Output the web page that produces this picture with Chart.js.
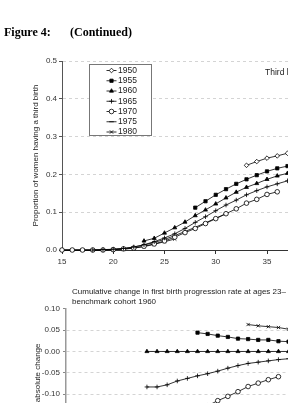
<!DOCTYPE html>
<html>
<head>
<meta charset="utf-8">
<script src="https://cdn.jsdelivr.net/npm/chart.js@4/dist/chart.umd.min.js"></script>
<style>
html, body { margin: 0; padding: 0; background: #fff; }
body { width: 288px; height: 403px; overflow: hidden; position: relative; }
canvas { position: absolute; left: 0; }
#c1 { top: 0; }
#c2 { top: 280px; }
#fig { position: absolute; left: 4px; top: 26px; z-index: 2; font: bold 12px "Liberation Serif", "Times New Roman", serif; line-height: 12px; white-space: nowrap; color: #000; }
#fig span { position: absolute; left: 66px; top: 0; }
</style>
</head>
<body>
<canvas id="c1" width="400" height="280"></canvas>
<canvas id="c2" width="400" height="200"></canvas>
<div id="fig">Figure 4:<span>(Continued)</span></div>
<script>
var cohorts = ['1950', '1955', '1960', '1965', '1970', '1975', '1980'];

// top panel: proportion of women having a third birth, by age 15..37
var ages = [15, 16, 17, 18, 19, 20, 21, 22, 23, 24, 25, 26, 27, 28, 29, 30, 31, 32, 33, 34, 35, 36, 37];
var third_1950 = [null, null, null, null, null, null, null, null, null, null, null, null, null, null, null, null, null, null, 0.224, 0.234, 0.243, 0.249, 0.256];
var third_1955 = [null, null, null, null, null, null, null, null, null, null, null, null, null, 0.112, 0.129, 0.146, 0.161, 0.175, 0.187, 0.198, 0.208, 0.216, 0.222];
var third_1960 = [null, null, null, null, null, null, null, null, 0.024, 0.031, 0.045, 0.059, 0.074, 0.091, 0.106, 0.122, 0.138, 0.153, 0.166, 0.176, 0.187, 0.196, 0.203];
var third_1965 = [null, null, null, 0, 0.001, 0.002, 0.004, 0.008, 0.014, 0.022, 0.032, 0.043, 0.057, 0.073, 0.088, 0.104, 0.119, 0.132, 0.146, 0.157, 0.167, 0.175, 0.183];
var third_1970 = [0, 0, 0, 0, 0, 0.001, 0.003, 0.005, 0.010, 0.016, 0.024, 0.034, 0.046, 0.057, 0.070, 0.083, 0.096, 0.109, 0.124, 0.134, 0.147, 0.154, null];
var third_1975 = [0, 0, 0, 0, 0, 0.002, 0.004, 0.008, 0.013, 0.020, 0.028, 0.038, 0.049, 0.060, 0.072, 0.084, 0.096, null, null, null, null, null, null];
var third_1980 = [0, 0, 0, 0, 0, 0.001, 0.002, 0.005, 0.009, 0.015, 0.022, 0.029, null, null, null, null, null, null, null, null, null, null, null];

// bottom panel: cumulative change vs cohort 1960, ages 23..37
var ages2 = [23, 24, 25, 26, 27, 28, 29, 30, 31, 32, 33, 34, 35, 36, 37];
var chg_1950 = [null, null, null, null, null, null, null, null, null, null, 0.063, 0.060, 0.058, 0.056, 0.052];
var chg_1955 = [null, null, null, null, null, 0.044, 0.041, 0.037, 0.034, 0.030, 0.029, 0.027, 0.027, 0.024, 0.023];
var chg_1960 = [0, 0, 0, 0, 0, 0, 0, 0, 0, 0, 0, 0, 0, 0, 0];
var chg_1965 = [-0.083, -0.083, -0.078, -0.069, -0.063, -0.057, -0.052, -0.046, -0.039, -0.033, -0.028, -0.025, -0.022, -0.019, -0.017];
var chg_1970 = [null, null, null, null, null, -0.138, -0.127, -0.115, -0.105, -0.094, -0.082, -0.074, -0.066, -0.059, null];

var yTicks1 = [0, 0.1, 0.2, 0.3, 0.4, 0.5];
var yTicks2 = [-0.2, -0.15, -0.1, -0.05, 0, 0.05, 0.1];

Chart.defaults.font.family = '"Liberation Sans", Arial, sans-serif';
Chart.defaults.font.size = 8;
Chart.defaults.color = '#333';

function makeSet(label, xs, vals, style, filled) {
    return {
        label: label,
        data: xs.map(function (a, j) { return { x: a, y: vals[j] }; })
                .filter(function (p) { return p.y !== null; }),
        borderColor: '#000',
        borderWidth: 0.8,
        pointStyle: style,
        pointRadius: 2.3,
        pointBackgroundColor: filled ? '#000' : '#fff',
        pointBorderColor: '#000',
        pointBorderWidth: 0.8,
        tension: 0,
        clip: false
    };
}

function drawMarker(ctx, style, x, y) {
    if (Chart.helpers && Chart.helpers.drawPoint) {
        Chart.helpers.drawPoint(ctx, { pointStyle: style, radius: 2.3, borderWidth: 0.8, rotation: 0 }, x, y);
    } else {
        ctx.beginPath(); ctx.arc(x, y, 2, 0, Math.PI * 2); ctx.stroke();
    }
}

// axis titles, panel labels and the legend box
var panelText = {
    id: 'panelText',
    afterDraw: function (chart, args, o) {
        var ctx = chart.ctx, a = chart.chartArea;
        ctx.save();
        ctx.fillStyle = '#222';
        ctx.font = '8px "Liberation Sans", Arial, sans-serif';
        ctx.textAlign = 'center';
        ctx.textBaseline = 'middle';
        ctx.translate(o.yTitleX, (a.top + a.bottom) / 2);
        ctx.rotate(-Math.PI / 2);
        ctx.fillText(o.yTitle, 0, 0);
        ctx.restore();

        ctx.save();
        ctx.fillStyle = '#222';
        ctx.textAlign = 'left';
        ctx.textBaseline = 'middle';
        (o.labels || []).forEach(function (l) {
            ctx.font = l.size + 'px "Liberation Sans", Arial, sans-serif';
            ctx.fillText(l.text, l.x, l.y);
        });
        ctx.restore();

        if (o.legend) {
            var L = o.legend;
            ctx.save();
            ctx.fillStyle = '#fff';
            ctx.fillRect(L.x, L.y, L.w, L.h);
            ctx.strokeStyle = '#777';
            ctx.lineWidth = 1;
            ctx.strokeRect(L.x, L.y, L.w, L.h);
            chart.data.datasets.forEach(function (ds, i) {
                var y = L.y + 6 + i * 10.25;
                var mx = L.x + 22;
                ctx.strokeStyle = '#000';
                ctx.lineWidth = 0.8;
                ctx.beginPath(); ctx.moveTo(mx - 5, y); ctx.lineTo(mx + 5, y); ctx.stroke();
                ctx.fillStyle = ds.pointBackgroundColor;
                drawMarker(ctx, ds.pointStyle, mx, y);
                ctx.fillStyle = '#222';
                ctx.font = '8.5px "Liberation Sans", Arial, sans-serif';
                ctx.textAlign = 'left';
                ctx.textBaseline = 'middle';
                ctx.fillText(ds.label, mx + 6.5, y);
            });
            ctx.restore();
        }
    }
};

var chart1 = new Chart(document.getElementById('c1'), {
    type: 'line',
    data: {
        datasets: [
            makeSet(cohorts[0], ages, third_1950, 'rectRot', false),
            makeSet(cohorts[1], ages, third_1955, 'rect', true),
            makeSet(cohorts[2], ages, third_1960, 'triangle', true),
            makeSet(cohorts[3], ages, third_1965, 'cross', false),
            makeSet(cohorts[4], ages, third_1970, 'circle', false),
            makeSet(cohorts[5], ages, third_1975, 'line', false),
            makeSet(cohorts[6], ages, third_1980, 'crossRot', false)
        ]
    },
    options: {
        responsive: false,
        animation: false,
        devicePixelRatio: 1,
        layout: { padding: { top: 61, left: 0, right: 30.5, bottom: 0 } },
        plugins: {
            legend: { display: false },
            tooltip: { enabled: false },
            panelText: {
                yTitle: 'Proportion of women having a third birth',
                yTitleX: 36,
                labels: [{ text: 'Third birth', x: 265, y: 73, size: 8.5 }],
                legend: { x: 89.5, y: 64.5, w: 62, h: 71 }
            }
        },
        scales: {
            x: {
                type: 'linear', min: 15, max: 45,
                afterFit: function (s) { s.height = 30; },
                ticks: { stepSize: 5, padding: 3 },
                grid: { drawOnChartArea: false, tickLength: 4, tickColor: '#333' },
                border: { color: '#333', width: 1 }
            },
            y: {
                min: 0, max: 0.5,
                afterFit: function (s) { s.width = 62; },
                afterBuildTicks: function (s) { s.ticks = yTicks1.map(function (v) { return { value: v }; }); },
                ticks: { padding: 2, callback: function (v) { return v.toFixed(1); } },
                grid: { color: '#d4d4d4', lineWidth: 1, tickLength: 3, tickColor: '#555' },
                border: { color: '#555', width: 1, dash: [3, 3] }
            }
        }
    },
    plugins: [panelText]
});

var chart2 = new Chart(document.getElementById('c2'), {
    type: 'line',
    data: {
        datasets: [
            makeSet(cohorts[0], ages2, chg_1950, 'crossRot', false),
            makeSet(cohorts[1], ages2, chg_1955, 'rect', true),
            makeSet(cohorts[2], ages2, chg_1960, 'triangle', true),
            makeSet(cohorts[3], ages2, chg_1965, 'cross', false),
            makeSet(cohorts[4], ages2, chg_1970, 'circle', false)
        ]
    },
    options: {
        responsive: false,
        animation: false,
        devicePixelRatio: 1,
        layout: { padding: { top: 28.7, left: 0, right: 30.5, bottom: 0 } },
        plugins: {
            legend: { display: false },
            tooltip: { enabled: false },
            panelText: {
                yTitle: 'absolute change',
                yTitleX: 38,
                labels: [
                    { text: 'Cumulative change in first birth progression rate at ages 23\u2013', x: 72, y: 12, size: 8 },
                    { text: 'benchmark cohort 1960', x: 72, y: 22, size: 8 }
                ]
            }
        },
        scales: {
            x: {
                type: 'linear', min: 15, max: 45,
                afterFit: function (s) { s.height = 43; },
                ticks: { stepSize: 5, padding: 3 },
                grid: { drawOnChartArea: false, tickLength: 4, tickColor: '#333' },
                border: { color: '#333', width: 1 }
            },
            y: {
                min: -0.2, max: 0.1,
                afterFit: function (s) { s.width = 66; },
                afterBuildTicks: function (s) { s.ticks = yTicks2.map(function (v) { return { value: v }; }); },
                ticks: {
                    padding: 3,
                    callback: function (v) { if (Math.abs(v) < 1e-9) v = 0; return v.toFixed(2); }
                },
                grid: {
                    color: function (c) { return c.tick && c.tick.value > 0.09 ? 'rgba(0,0,0,0)' : '#d4d4d4'; },
                    lineWidth: 1, tickLength: 3, tickColor: '#888'
                },
                border: { color: '#999', width: 1.5, dash: [3, 3] }
            }
        }
    },
    plugins: [panelText]
});
</script>
</body>
</html>
